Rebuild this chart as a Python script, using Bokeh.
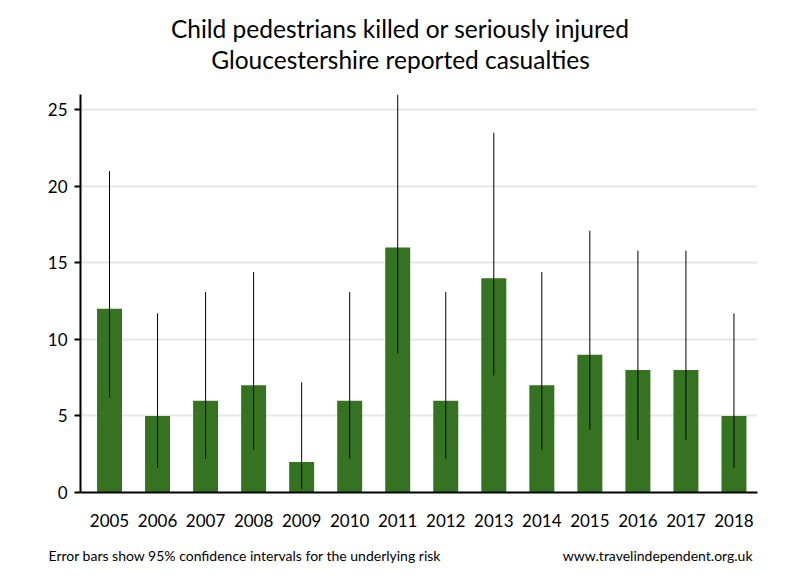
from bokeh.plotting import figure
from bokeh.models import Range1d, FixedTicker
from bokeh.layouts import column
from bokeh.core.properties import value
from bokeh.embed import file_html
from bokeh.resources import INLINE

years = [2005, 2006, 2007, 2008, 2009, 2010, 2011, 2012, 2013, 2014, 2015, 2016, 2017, 2018]
casualties = [12, 5, 6, 7, 2, 6, 16, 6, 14, 7, 9, 8, 8, 5]
ci_lower = [6.2, 1.6, 2.2, 2.8, 0.24, 2.2, 9.1, 2.2, 7.65, 2.8, 4.1, 3.45, 3.45, 1.6]
ci_upper = [21.0, 11.7, 13.1, 14.4, 7.2, 13.1, 26.0, 13.1, 23.5, 14.4, 17.1, 15.8, 15.8, 11.7]
year_labels = [str(y) for y in years]
y_ticks = [0, 5, 10, 15, 20, 25]
title_lines = ["Child pedestrians killed or seriously injured", "Gloucestershire reported casualties"]
footer_left = "Error bars show 95% confidence intervals for the underlying risk"
footer_right = "www.travelindependent.org.uk"

FONT = "Lato"
W = 784
FL, FR = 80, 757   # page x of the plot frame

def blank(height):
    f = figure(width=W, height=height, output_backend="svg", toolbar_location=None,
               x_range=Range1d(0, W), y_range=Range1d(height, 0),
               x_axis_type=None, y_axis_type=None, min_border=0,
               frame_align=False)
    f.outline_line_color = None
    return f

# header with the two title lines
head = blank(80)
head.text(x=[400, 400], y=[27.5, 58.5], text=title_lines, text_font=value(FONT),
          text_font_size="24.5px", text_color="black", text_align="center",
          text_baseline="alphabetic")

# main chart
p = figure(width=W, height=455, output_backend="svg", toolbar_location=None,
           x_range=Range1d(2004.396, 2018.49), y_range=Range1d(0, 26),
           min_border_left=FL, min_border_right=W - FR, min_border_top=14, min_border_bottom=43)
p.outline_line_color = None

p.vbar(x=years, top=casualties, bottom=0, width=0.52, fill_color="#367321", line_color=None)
p.segment(x0=years, y0=ci_lower, x1=years, y1=ci_upper, line_color="black", line_width=1)

p.xgrid.grid_line_color = None
p.ygrid.grid_line_color = "#e6e6e6"
p.ygrid.grid_line_width = 2

p.xaxis.ticker = FixedTicker(ticks=years)
p.xaxis.major_label_overrides = {y: s for y, s in zip(years, year_labels)}
p.xaxis.major_tick_out = 0
p.xaxis.major_tick_in = 0
p.xaxis.minor_tick_out = 0
p.xaxis.minor_tick_in = 0
p.xaxis.axis_line_width = 2
p.xaxis.axis_line_color = "black"
p.xaxis.major_label_standoff = 21
p.xaxis.major_label_text_font = FONT
p.xaxis.major_label_text_font_size = "17px"
p.xaxis.major_label_text_color = "black"

p.yaxis.ticker = FixedTicker(ticks=y_ticks)
p.yaxis.major_tick_out = 6
p.yaxis.major_tick_in = 0
p.yaxis.minor_tick_out = 0
p.yaxis.minor_tick_in = 0
p.yaxis.major_tick_line_width = 2
p.yaxis.axis_line_width = 2
p.yaxis.axis_line_color = "black"
p.yaxis.major_label_standoff = 7
p.yaxis.major_label_text_font = FONT
p.yaxis.major_label_text_font_size = "17px"
p.yaxis.major_label_text_color = "black"

# footer
foot = blank(45)
foot.text(x=[48], y=[19.5], text=[footer_left], text_font=value(FONT),
          text_font_size="14px", text_color="black", text_align="left",
          text_baseline="alphabetic")
foot.text(x=[752], y=[19.5], text=[footer_right], text_font=value(FONT),
          text_font_size="14px", text_color="black", text_align="right",
          text_baseline="alphabetic")

layout = column(head, p, foot, spacing=0)
open("out.html", "w").write(file_html(layout, INLINE))
